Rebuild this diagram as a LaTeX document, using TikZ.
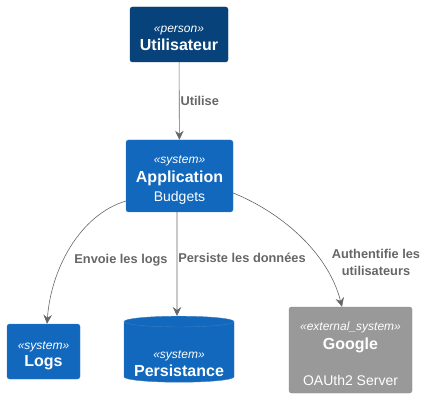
\documentclass[tikz,border=0pt]{standalone}
\usepackage{fontspec}
\setmainfont{Liberation Sans}
\usepackage{tikz}
\usetikzlibrary{shapes.geometric, arrows.meta, positioning}
\usepackage{xcolor}

\definecolor{personbg}{HTML}{08427B}
\definecolor{personline}{HTML}{073B6F}
\definecolor{systembg}{HTML}{1168BD}
\definecolor{systemline}{HTML}{3C7FC0}
\definecolor{extbg}{HTML}{999999}
\definecolor{extline}{HTML}{8A8A8A}
\definecolor{relgray}{HTML}{666666}

\newcommand{\stereo}[2][16pt]{{\rule{0pt}{#1}\fontsize{12}{18.5}\selectfont\itshape «#2»}}
\newcommand{\bname}[1]{{\fontsize{16}{18.5}\selectfont\bfseries #1}}
\newcommand{\descr}[1]{{\fontsize{14}{18.5}\selectfont #1}}

\begin{document}
\begin{tikzpicture}[
    x=1pt, y=1pt,
    box/.style={rectangle, draw, rounded corners=2.5pt, align=center, text=white, inner sep=0pt, font=\fontsize{12}{18.5}\selectfont},
    person/.style={box, fill=personbg, draw=personline},
    sysbox/.style={box, fill=systembg, draw=systemline},
    extbox/.style={box, fill=extbg, draw=extline},
    db/.style={cylinder, shape border rotate=90, aspect=0.12, draw=systemline, fill=systembg, text=white, align=center, inner sep=0pt, font=\fontsize{12}{18.5}\selectfont},
    arrow/.style={-{Stealth[length=9pt, width=8.5pt, inset=3pt]}, relgray, semithick},
    lbl/.style={text=relgray, align=center, inner sep=1pt, font=\fontsize{12.8}{17}\selectfont\bfseries}
]
    \useasboundingbox (0,0) rectangle (428,402);

    % Components
    \node[person, minimum width=98pt, minimum height=55pt] (user) at (179,367.5) {\stereo[14pt]{person}\\\bname{Utilisateur}};
    \node[sysbox, minimum width=107pt, minimum height=72pt] (app) at (179.5,226) {\stereo[16pt]{system}\\[0.5pt]\bname{Application}\\[0.5pt]\descr{Budgets}};
    \node[sysbox, minimum width=73pt, minimum height=55pt] (logs) at (43.5,50.5) {\stereo[16pt]{system}\\[-1pt]\bname{Logs}};
    \node[db, minimum width=110pt, minimum height=62pt] (store) at (179,50) {\stereo[31pt]{system}\\\bname{Persistance}};
    \node[extbox, minimum width=123pt, minimum height=86pt] (google) at (350.5,52) {\stereo[17pt]{external\_system}\\\bname{Google}\\[18pt]\descr{OAUth2 Server}};

    % Connections
    \draw[arrow] (user) -- node[lbl, right] (lblUse) {Utilise} (app);
    \draw[arrow] ([yshift=-25pt]app.west) .. controls +(-46,-14) and +(4,55) .. ([xshift=3.5pt]logs.north);
    \draw[arrow] ([xshift=-2.5pt]app.south) -- node[lbl, right, pos=0.44] (lblStore) {Persiste les données} ([xshift=-2pt]store.north);
    \draw[arrow] ([yshift=-17pt]app.east) .. controls +(47,-19) and +(-14,55) .. ([xshift=-8.5pt]google.north);

    % Labels
    \node[lbl] (lblLogs) at (121,142) {Envoie les logs};
    \node[lbl] (lblAuth) at (376,140) {Authentifie les\\utilisateurs};
\end{tikzpicture}
\end{document}
